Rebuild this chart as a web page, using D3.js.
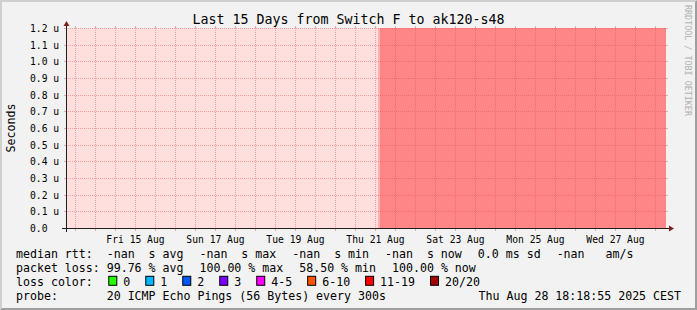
<!DOCTYPE html>
<html>
<head>
<meta charset="utf-8">
<script src="https://cdn.jsdelivr.net/npm/d3@7"></script>
<style>
body{margin:0;background:#f2f2f2}
svg{display:block}
text{font-family:"DejaVu Sans Mono",monospace;white-space:pre;fill:#000}
</style>
</head>
<body>
<svg id="chart" width="697" height="310"></svg>
<script>
// times are CEST wall clock, handled as utc so the browser zone does not matter
var graphStart="2025-08-13T18:18:55";
var graphEnd="2025-08-28T18:18:55";

// loss periods
var periodStart=["2025-08-13T18:18:55","2025-08-21T13:30:00","2025-08-21T14:40:00"];
var periodEnd=["2025-08-21T13:30:00","2025-08-21T14:40:00","2025-08-28T18:18:55"];
var periodKind=["unknown","partial","loss"];

var yTicks=[0,0.1,0.2,0.3,0.4,0.5,0.6,0.7,0.8,0.9,1.0,1.1,1.2]; // microseconds
var xLabelDays=["2025-08-15","2025-08-17","2025-08-19","2025-08-21","2025-08-23","2025-08-25","2025-08-27"];

var rttStatNames=["avg","max","min","now"];
var rttStatValues=["-nan","-nan","-nan","-nan"];
var rttSd="0.0";
var rttAmS="-nan";

var lossStatNames=["avg","max","min","now"];
var lossStatValues=[99.76,100.00,58.50,100.00];

var lossColorLabels=["0","1","2","3","4-5","6-10","11-19","20/20"];
var lossColorValues=["#26ff00","#00b8ff","#0059ff","#7e00ff","#ff00ff","#ff5500","#ff0000","#a10000"];

var probeText="20 ICMP Echo Pings (56 Bytes) every 300s";
var stampText="Thu Aug 28 18:18:55 2025 CEST";
var titleText="Last 15 Days from Switch F to ak120-s48";


var width=697, height=310;
var x0=66, x1=666, y0=228, y1=28;
var kindFill={unknown:"#ffdede",partial:"#ffb0b0",loss:"#ff8686"};
var mgrid="rgba(222,79,79,0.45)";

var parse=d3.utcParse("%Y-%m-%dT%H:%M:%S");
var parseDay=d3.utcParse("%Y-%m-%d");

var x=d3.scaleUtc()
	.domain([parse(graphStart),parse(graphEnd)])
	.range([x0,x1]);

var y=d3.scaleLinear()
	.domain([0,1.2])
	.range([y0,y1]);

var svg=d3.select("#chart");

// background and shaded frame
svg.append("rect").attr("width",width).attr("height",height).attr("fill","#f2f2f2");
svg.append("path").attr("d","M0,0H697L695,2H2V308L0,310Z").attr("fill","#cfcfcf");
svg.append("path").attr("d","M697,0V310H0L2,308H695V2Z").attr("fill","#9e9e9e");

// loss areas, full height
svg.append("g")
	.selectAll("rect")
	.data(periodKind)
	.join("rect")
	.attr("x",(d,i)=>x(parse(periodStart[i])))
	.attr("width",(d,i)=>x(parse(periodEnd[i]))-x(parse(periodStart[i])))
	.attr("y",y(y.domain()[1]))
	.attr("height",y(0)-y(y.domain()[1]))
	.attr("fill",d=>kindFill[d]);

// horizontal grid
var hg=svg.append("g");
yTicks.forEach(function(v){
	var py=Math.round(y(v))+0.5;
	hg.append("line").attr("x1",x0).attr("x2",x1).attr("y1",py).attr("y2",py)
		.attr("stroke",mgrid).attr("stroke-dasharray","1,1");
	hg.append("line").attr("x1",x0-2).attr("x2",x0).attr("y1",py).attr("y2",py).attr("stroke",mgrid);
	hg.append("line").attr("x1",x1).attr("x2",x1+2).attr("y1",py).attr("y2",py).attr("stroke",mgrid);
});

// vertical grid every 12 hours
var vg=svg.append("g");
d3.utcHour.every(12).range(x.domain()[0],x.domain()[1]).forEach(function(t){
	var px=Math.round(x(t))+0.5;
	vg.append("line").attr("x1",px).attr("x2",px).attr("y1",y1).attr("y2",y0)
		.attr("stroke",mgrid).attr("stroke-dasharray","1,1");
	vg.append("line").attr("x1",px).attr("x2",px).attr("y1",y1-2).attr("y2",y1).attr("stroke",mgrid);
	vg.append("line").attr("x1",px).attr("x2",px).attr("y1",y0).attr("y2",y0+3).attr("stroke",mgrid);
});

// axes
svg.append("line").attr("x1",x0-4).attr("x2",x1+4).attr("y1",y0+0.5).attr("y2",y0+0.5).attr("stroke","#1f1f1f");
svg.append("line").attr("x1",x0+0.5).attr("x2",x0+0.5).attr("y1",y0+4).attr("y2",y1-4).attr("stroke","#1f1f1f");
svg.append("path").attr("d","M"+(x1+3)+","+(y0-2.5)+"L"+(x1+3)+","+(y0+3.5)+"L"+(x1+8)+","+(y0+0.5)+"Z").attr("fill","#801f1f");
svg.append("path").attr("d","M"+(x0-2.5)+","+(y1-2)+"L"+(x0+3.5)+","+(y1-2)+"L"+(x0+0.5)+","+(y1-7)+"Z").attr("fill","#801f1f");

// y labels
svg.append("g")
	.selectAll("text")
	.data(yTicks)
	.join("text")
	.attr("x",30)
	.attr("y",d=>Math.round(y(d))+4)
	.style("font-size","9.7px")
	.text(d=>d===0?"0.0":d3.format(".1f")(d)+" u");

// x labels at noon of every second day
var fmt=d3.utcFormat("%a %d %b");
svg.append("g")
	.selectAll("text")
	.data(xLabelDays)
	.join("text")
	.attr("x",d=>x(d3.utcHour.offset(parseDay(d),12)))
	.attr("y",242.5)
	.attr("text-anchor","middle")
	.style("font-size","9.7px")
	.text(d=>fmt(parseDay(d)));

// title, axis title, watermark
svg.append("text").attr("x",width/2).attr("y",24).attr("text-anchor","middle")
	.style("font-size","13.3px").text(titleText);

svg.append("text").attr("transform","translate(15.3,128) rotate(-90)").attr("text-anchor","middle")
	.style("font-size","11.6px").text("Seconds");

svg.append("text").attr("transform","translate(685,5) rotate(90)")
	.style("font-size","8.4px").style("fill","#b0b0b0").text("RRDTOOL / TOBI OETIKER");

// legend
var lf="11.6px", tab=106.7, gap=16;
var rows=[258.2,272,285.8,299.6];

function legendRow(row,label,items){
	svg.append("text").attr("x",16).attr("y",rows[row]).style("font-size",lf).text(label);
	var px=tab;
	items.forEach(function(s){
		var t=svg.append("text").attr("x",px).attr("y",rows[row]).style("font-size",lf).text(s);
		px+=t.node().getComputedTextLength()+gap;
	});
}

legendRow(0,"median rtt:",rttStatValues.map((v,i)=>v+"  s "+rttStatNames[i])
	.concat([rttSd+" ms sd",rttAmS+"   am/s"]));
legendRow(1,"packet loss:",lossStatValues.map((v,i)=>d3.format(".2f")(v)+" % "+lossStatNames[i]));

svg.append("text").attr("x",16).attr("y",rows[2]).style("font-size",lf).text("loss color:");
var bx=108.3;
lossColorLabels.forEach(function(l,i){
	svg.append("rect").attr("x",bx+0.5).attr("y",rows[2]-9.5).attr("width",8).attr("height",9)
		.attr("fill",lossColorValues[i]).attr("stroke","#000");
	var t=svg.append("text").attr("x",bx+15).attr("y",rows[2]).style("font-size",lf).text(l);
	bx+=30+t.node().getComputedTextLength();
});

svg.append("text").attr("x",16).attr("y",rows[3]).style("font-size",lf).text("probe:");
svg.append("text").attr("x",tab).attr("y",rows[3]).style("font-size",lf).text(probeText);
svg.append("text").attr("x",681).attr("y",rows[3]).attr("text-anchor","end").style("font-size",lf).text(stampText);
</script>
</body>
</html>
